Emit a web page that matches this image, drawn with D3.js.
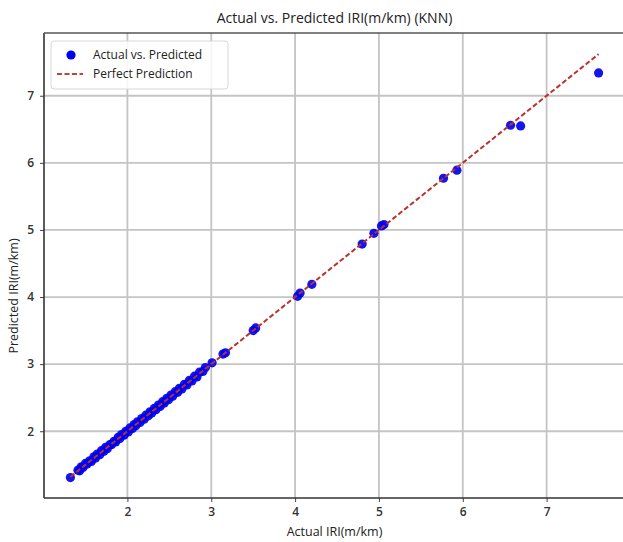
<!DOCTYPE html>
<html>
<head>
<meta charset="utf-8">
<script src="https://cdn.jsdelivr.net/npm/d3@7"></script>
<style>
    body { margin: 0; background: #fff; }
    svg { display: block; font-family: "Open Sans", "DejaVu Sans", sans-serif; }
</style>
</head>
<body>
<svg id="chart" width="623" height="542"></svg>
<script>
// values
const actualIRI = [
    1.32, 1.41, 1.43, 1.45, 1.47, 1.50, 1.52, 1.55, 1.57, 1.60,
    1.62, 1.64, 1.67, 1.69, 1.72, 1.74, 1.76, 1.79, 1.81, 1.84,
    1.86, 1.89, 1.91, 1.93, 1.96, 1.98, 2.01, 2.03, 2.06, 2.08,
    2.10, 2.12, 2.15, 2.17, 2.20, 2.22, 2.25, 2.27, 2.29, 2.32,
    2.34, 2.37, 2.39, 2.42, 2.44, 2.47, 2.49, 2.52, 2.54, 2.57,
    2.60, 2.62, 2.65, 2.68, 2.71, 2.74, 2.77, 2.80, 2.83, 2.86,
    2.90, 2.93, 3.01, 3.14, 3.17, 3.50, 3.53, 4.03, 4.06, 4.20,
    4.80, 4.94, 5.03, 5.06, 5.77, 5.93, 6.57, 6.69, 7.62
];
const predictedIRI = [
    1.31, 1.42, 1.41, 1.47, 1.46, 1.52, 1.51, 1.56, 1.55, 1.62,
    1.60, 1.66, 1.65, 1.71, 1.70, 1.76, 1.74, 1.80, 1.80, 1.85,
    1.84, 1.91, 1.89, 1.95, 1.94, 2.00, 1.99, 2.05, 2.04, 2.10,
    2.08, 2.14, 2.13, 2.19, 2.18, 2.24, 2.23, 2.29, 2.27, 2.34,
    2.32, 2.39, 2.37, 2.44, 2.42, 2.49, 2.47, 2.54, 2.52, 2.59,
    2.58, 2.64, 2.63, 2.70, 2.69, 2.76, 2.75, 2.82, 2.81, 2.88,
    2.89, 2.95, 3.02, 3.15, 3.17, 3.50, 3.54, 4.01, 4.06, 4.19,
    4.79, 4.95, 5.06, 5.08, 5.77, 5.89, 6.56, 6.55, 7.34
];
const xTicks = [2, 3, 4, 5, 6, 7];
const yTicks = [2, 3, 4, 5, 6, 7];

const points = actualIRI.map((a, i) => ({ actual: a, predicted: predictedIRI[i] }));

const svg = d3.select('#chart');
const margin = { top: 33, right: -2, bottom: 44, left: 44 };
const width = 623 - margin.left - margin.right;
const height = 542 - margin.top - margin.bottom;

const lo = d3.min(actualIRI), hi = d3.max(actualIRI);
const pad = (hi - lo) * 0.05;
const x = d3.scaleLinear().domain([lo - pad, hi + pad]).range([0, width]);
const y = d3.scaleLinear().domain([lo - pad, hi + pad]).range([height, 0]);

const g = svg.append('g').attr('transform', `translate(${margin.left},${margin.top})`);

// grid
g.append('g').attr('class', 'grid')
    .selectAll('line.v').data(xTicks).enter().append('line')
    .attr('x1', d => x(d)).attr('x2', d => x(d))
    .attr('y1', 0).attr('y2', height)
    .attr('stroke', '#c4c4c4').attr('stroke-width', 1.8);
g.append('g').attr('class', 'grid')
    .selectAll('line.h').data(yTicks).enter().append('line')
    .attr('x1', 0).attr('x2', width)
    .attr('y1', d => y(d)).attr('y2', d => y(d))
    .attr('stroke', '#c4c4c4').attr('stroke-width', 1.8);

// axes
const fmt = d3.format('d');
const xAxis = g.append('g')
    .attr('transform', `translate(0,${height})`)
    .call(d3.axisBottom(x).tickValues(xTicks).tickFormat(fmt).tickSize(4).tickPadding(5).tickSizeOuter(0));
const yAxis = g.append('g')
    .call(d3.axisLeft(y).tickValues(yTicks).tickFormat(fmt).tickSize(4).tickPadding(6).tickSizeOuter(0));
[xAxis, yAxis].forEach(ax => {
    ax.select('.domain').remove();
    ax.selectAll('line').attr('stroke', '#444');
    ax.selectAll('text')
        .style('font-size', '12px')
        .style('font-weight', '600')
        .style('font-family', '"Open Sans", sans-serif')
        .attr('fill', '#333');
});

// frame
g.append('line').attr('x1', 0).attr('x2', 0).attr('y1', 0).attr('y2', height)
    .attr('stroke', '#333').attr('stroke-width', 1.6);
g.append('line').attr('x1', 0).attr('x2', width).attr('y1', height).attr('y2', height)
    .attr('stroke', '#333').attr('stroke-width', 1.6);
g.append('line').attr('x1', 0).attr('x2', width).attr('y1', 0).attr('y2', 0)
    .attr('stroke', '#555').attr('stroke-width', 1.6);

// scatter
g.selectAll('.dot')
    .data(points)
    .enter().append('circle')
    .attr('class', 'dot')
    .attr('cx', d => x(d.actual))
    .attr('cy', d => y(d.predicted))
    .attr('r', 4.6)
    .attr('fill', '#0000ee')
    .attr('fill-opacity', 0.92);

// perfect prediction line
g.append('line')
    .attr('x1', x(lo)).attr('y1', y(lo))
    .attr('x2', x(hi)).attr('y2', y(hi))
    .attr('stroke', '#b8322e')
    .attr('stroke-width', 2)
    .attr('stroke-dasharray', '5,2.5');

// title and labels
svg.append('text')
    .attr('x', margin.left + width / 2)
    .attr('y', 23)
    .attr('text-anchor', 'middle')
    .attr('font-size', '14px')
    .attr('fill', '#222')
    .text('Actual vs. Predicted IRI(m/km) (KNN)');

svg.append('text')
    .attr('x', margin.left + width / 2)
    .attr('y', 536)
    .attr('text-anchor', 'middle')
    .attr('font-size', '12.5px')
    .attr('fill', '#222')
    .text('Actual IRI(m/km)');

svg.append('text')
    .attr('transform', `translate(18,296) rotate(-90)`)
    .attr('text-anchor', 'middle')
    .attr('font-size', '12.5px')
    .attr('fill', '#222')
    .text('Predicted IRI(m/km)');

// legend
const legend = svg.append('g').attr('transform', 'translate(51,41)');
legend.append('rect')
    .attr('width', 177).attr('height', 48)
    .attr('rx', 3)
    .attr('fill', '#fff').attr('fill-opacity', 0.85)
    .attr('stroke', '#d8d8d8');
legend.append('circle')
    .attr('cx', 20).attr('cy', 14).attr('r', 4.6)
    .attr('fill', '#0000ee');
legend.append('line')
    .attr('x1', 6).attr('x2', 32).attr('y1', 33).attr('y2', 33)
    .attr('stroke', '#c8403a').attr('stroke-width', 2)
    .attr('stroke-dasharray', '5,2.5');
legend.append('text')
    .attr('x', 42).attr('y', 18)
    .attr('font-size', '12px').attr('fill', '#222')
    .text('Actual vs. Predicted');
legend.append('text')
    .attr('x', 42).attr('y', 37)
    .attr('font-size', '12px').attr('fill', '#222')
    .text('Perfect Prediction');
</script>
</body>
</html>
